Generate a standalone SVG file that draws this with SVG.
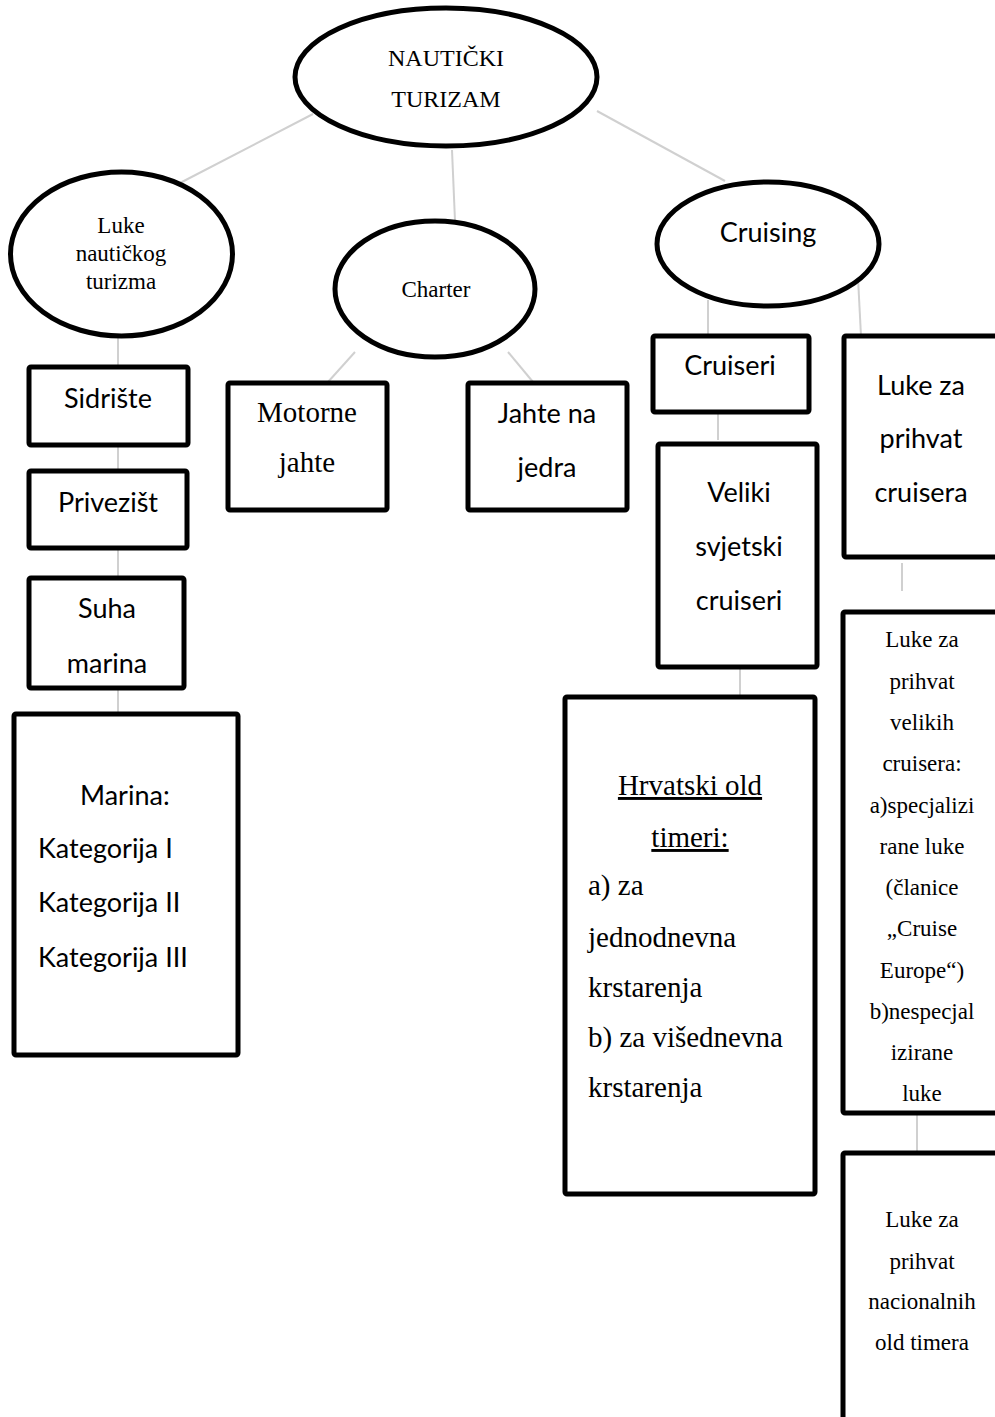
<svg xmlns="http://www.w3.org/2000/svg" width="995" height="1417" viewBox="0 0 995 1417">
<style>
.shape{fill:#fff;stroke:#000;stroke-width:5;stroke-linejoin:round}
.conn{stroke:#d0d0d0;stroke-width:2;fill:none}
.serif{font-family:"Liberation Serif","Times New Roman",serif;fill:#000}
.sans{font-family:Lato,"Open Sans",sans-serif;fill:#000}
.s23{font-size:23px}
.s27{font-size:27px}
.s29{font-size:29px}
.c{text-anchor:middle}
</style>
<rect width="995" height="1417" fill="#fff"/>
<g id="connectors">
<line class="conn" x1="313" y1="114" x2="180" y2="183"/>
<line class="conn" x1="452" y1="150" x2="455" y2="221"/>
<line class="conn" x1="597" y1="111" x2="725" y2="181"/>
<line class="conn" x1="118" y1="303" x2="118" y2="367"/>
<line class="conn" x1="118" y1="445" x2="118" y2="471"/>
<line class="conn" x1="118" y1="548" x2="118" y2="578"/>
<line class="conn" x1="118" y1="688" x2="118" y2="714"/>
<line class="conn" x1="355" y1="352" x2="328" y2="382"/>
<line class="conn" x1="508" y1="352" x2="533" y2="382"/>
<line class="conn" x1="708" y1="300" x2="708" y2="336"/>
<line class="conn" x1="858" y1="278" x2="861" y2="336"/>
<line class="conn" x1="718" y1="412" x2="718" y2="440"/>
<line class="conn" x1="740" y1="667" x2="740" y2="695"/>
<line class="conn" x1="902" y1="563" x2="902" y2="591"/>
<line class="conn" x1="917" y1="1113" x2="917" y2="1152"/>
</g>
<g id="nauticki-turizam">
<ellipse class="shape" cx="446" cy="77" rx="151" ry="69"/>
<text class="serif c" style="font-size:24px" x="446" y="66">NAUTIČKI</text>
<text class="serif c" style="font-size:24px" x="446" y="107">TURIZAM</text>
</g>
<g id="luke-nautickog-turizma">
<ellipse class="shape" cx="121.5" cy="254" rx="111" ry="82"/>
<text class="serif s23 c" x="121" y="233">Luke</text>
<text class="serif s23 c" x="121" y="261">nautičkog</text>
<text class="serif s23 c" x="121" y="289">turizma</text>
</g>
<g id="charter">
<ellipse class="shape" cx="435" cy="289" rx="100" ry="68"/>
<text class="serif s23 c" x="436" y="297">Charter</text>
</g>
<g id="cruising">
<ellipse class="shape" cx="768" cy="244" rx="111" ry="62"/>
<text class="sans s27 c" x="768" y="242">Cruising</text>
</g>
<g id="sidriste">
<rect class="shape" x="29" y="367" width="159" height="78" rx="2"/>
<text class="sans s27 c" x="108" y="408">Sidrište</text>
</g>
<g id="privezist">
<rect class="shape" x="29" y="471" width="158" height="77" rx="2"/>
<text class="sans s27 c" x="108" y="512">Privezišt</text>
</g>
<g id="suha-marina">
<rect class="shape" x="29" y="578" width="155" height="110" rx="2"/>
<text class="sans s27 c" x="107" y="618">Suha</text>
<text class="sans s27 c" x="107" y="673">marina</text>
</g>
<g id="marina">
<rect class="shape" x="14" y="714" width="224" height="341" rx="2"/>
<text class="sans s27" x="80" y="805">Marina:</text>
<text class="sans s27" x="38" y="858">Kategorija I</text>
<text class="sans s27" x="38" y="912">Kategorija II</text>
<text class="sans s27" x="38" y="967">Kategorija III</text>
</g>
<g id="motorne-jahte">
<rect class="shape" x="228" y="383" width="159" height="127" rx="2"/>
<text class="serif s29 c" x="307" y="422">Motorne</text>
<text class="serif s29 c" x="307" y="472">jahte</text>
</g>
<g id="jahte-na-jedra">
<rect class="shape" x="468" y="383" width="159" height="127" rx="2"/>
<text class="sans s27 c" x="547" y="423">Jahte na</text>
<text class="sans s27 c" x="547" y="477">jedra</text>
</g>
<g id="cruiseri">
<rect class="shape" x="653" y="336" width="156" height="76" rx="2"/>
<text class="sans s27 c" x="730" y="375">Cruiseri</text>
</g>
<g id="veliki-svjetski-cruiseri">
<rect class="shape" x="658" y="444" width="159" height="223" rx="2"/>
<text class="sans s27 c" x="739" y="502">Veliki</text>
<text class="sans s27 c" x="739" y="556">svjetski</text>
<text class="sans s27 c" x="739" y="610">cruiseri</text>
</g>
<g id="hrvatski-old-timeri">
<rect class="shape" x="565" y="697" width="250" height="497" rx="2"/>
<text class="serif s29 c" x="690" y="795" text-decoration="underline">Hrvatski old</text>
<text class="serif s29 c" x="690" y="847" text-decoration="underline">timeri:</text>
<text class="serif s29" x="588" y="895">a) za</text>
<text class="serif s29" x="588" y="947">jednodnevna</text>
<text class="serif s29" x="588" y="997">krstarenja</text>
<text class="serif s29" x="588" y="1047">b) za višednevna</text>
<text class="serif s29" x="588" y="1097">krstarenja</text>
</g>
<g id="luke-za-prihvat-cruisera">
<rect class="shape" x="844" y="336" width="160" height="221" rx="2"/>
<text class="sans s27 c" x="921" y="395">Luke za</text>
<text class="sans s27 c" x="921" y="448">prihvat</text>
<text class="sans s27 c" x="921" y="502">cruisera</text>
</g>
<g id="luke-velikih-cruisera">
<rect class="shape" x="843" y="612" width="160" height="501" rx="2"/>
<text class="serif s23 c" x="922" y="647">Luke za</text>
<text class="serif s23 c" x="922" y="689">prihvat</text>
<text class="serif s23 c" x="922" y="730">velikih</text>
<text class="serif s23 c" x="922" y="771">cruisera:</text>
<text class="serif s23 c" x="922" y="813">a)specjalizi</text>
<text class="serif s23 c" x="922" y="854">rane luke</text>
<text class="serif s23 c" x="922" y="895">(članice</text>
<text class="serif s23 c" x="922" y="936">„Cruise</text>
<text class="serif s23 c" x="922" y="978">Europe“)</text>
<text class="serif s23 c" x="922" y="1019">b)nespecjal</text>
<text class="serif s23 c" x="922" y="1060">izirane</text>
<text class="serif s23 c" x="922" y="1101">luke</text>
</g>
<g id="luke-nacionalnih-old-timera">
<rect class="shape" x="843" y="1153" width="160" height="280" rx="2"/>
<text class="serif s23 c" x="922" y="1227">Luke za</text>
<text class="serif s23 c" x="922" y="1269">prihvat</text>
<text class="serif s23 c" x="922" y="1309">nacionalnih</text>
<text class="serif s23 c" x="922" y="1350">old timera</text>
</g>
</svg>
